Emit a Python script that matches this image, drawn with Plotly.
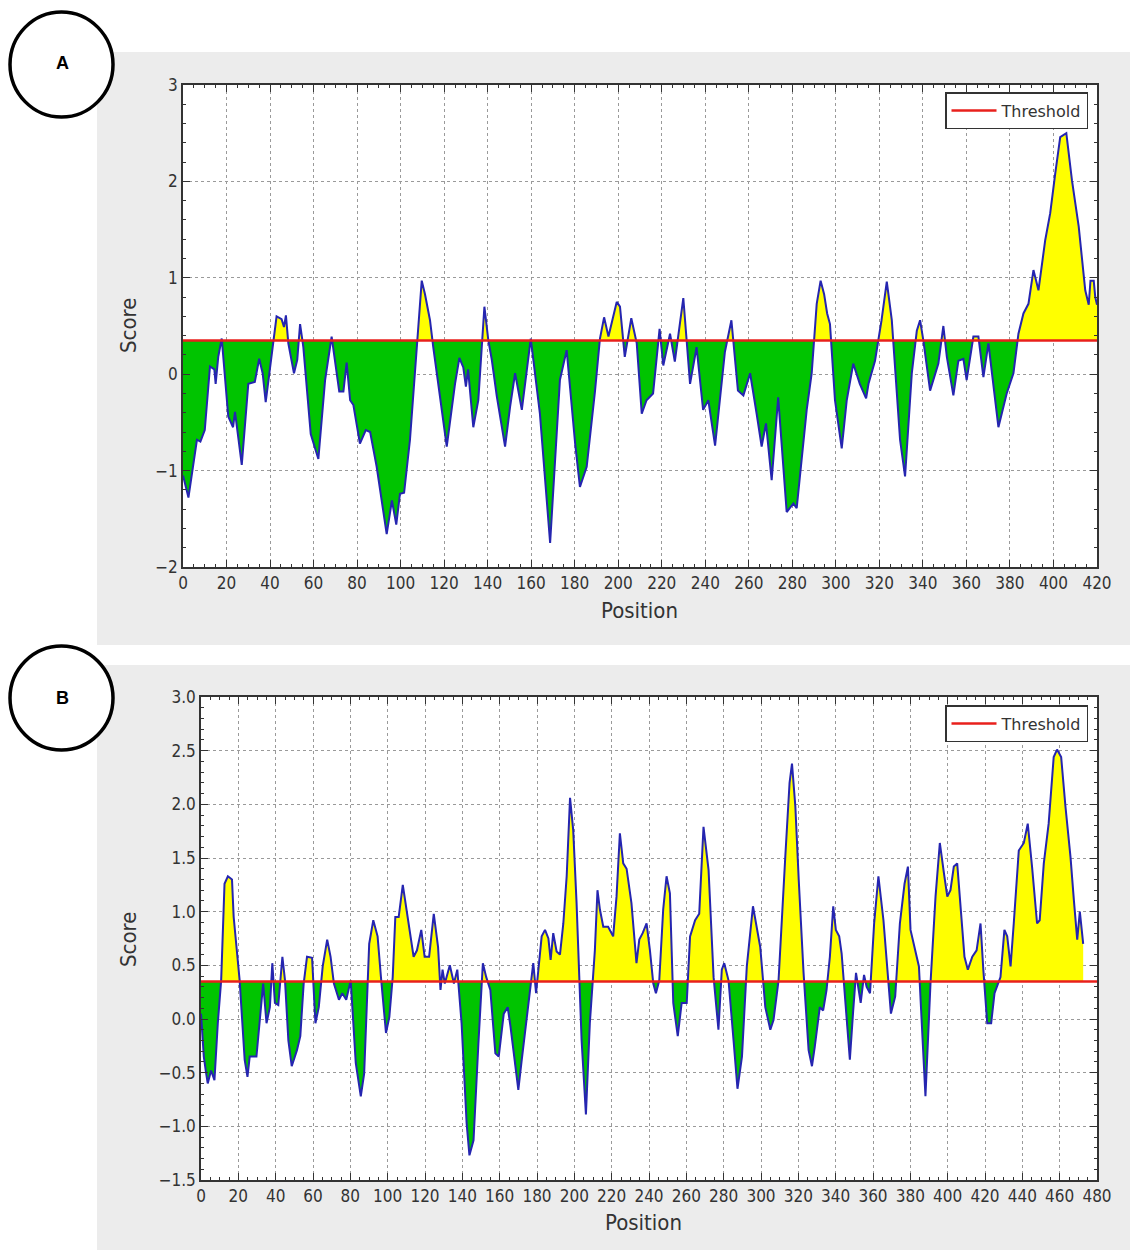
import plotly.graph_objects as go

W, H = 1130, 1252
THRESHOLD = 0.35

# ---------------- Panel A data ----------------
a_pos = [0, 2.5, 6.4, 8, 10, 12.4, 14.4, 15, 16.2, 17.8, 20.8, 23, 23.9, 27, 30, 33, 35, 36.6, 38, 40.2,
         43, 45.3, 46.4, 47.3, 48.4, 51, 52.5, 53.8, 55.3, 58.7, 62.2, 65.3, 68.3, 71.8, 73.7, 75.2, 76.8,
         78.3, 81.3, 84, 86, 89, 93.6, 96, 98, 99.7, 101.6, 104.3, 107.4, 109.7, 111.2, 113.5, 115, 121.2,
         125, 127, 128.8, 130, 131, 133.4, 135.7, 138.5, 140.3, 141.9, 144.2, 148, 150.3, 152.6, 155.7,
         159.8, 164, 168.7, 173.2, 176.3, 180.2, 182.4, 185.5, 189.3, 191.6, 193.5, 195.5, 199.3, 200.8,
         203, 206, 208.5, 210.8, 213, 216, 219, 220.7, 223.8, 226, 229.9, 233, 236, 239, 241.4, 244.5,
         249, 252, 255, 257.5, 260.6, 263.6, 265.9, 267.9, 270.5, 273.5, 277.4, 280.5, 282, 286.6, 288.9,
         291.2, 293, 294.6, 296, 297.3, 299.6, 302.7, 305, 308, 311, 313.9, 315, 318, 321, 323.4, 325.7,
         329.5, 331.8, 334.9, 337.2, 338.7, 340.2, 343.3, 347.1, 349.4, 351, 354, 356.3, 358.6, 360.1,
         363.2, 365.5, 367.8, 370.1, 374.7, 378.5, 381.6, 383.9, 386.2, 388.5, 390.8, 393.1, 396.2, 398.5,
         400.8, 403.1, 405.9, 408.5, 411.6, 414.6, 416.2, 417, 418.5, 419.2, 420]
a_score = [-1.05, -1.28, -0.68, -0.70, -0.58, 0.08, 0.05, -0.10, 0.18, 0.37, -0.44, -0.55, -0.39, -0.94,
           -0.10, -0.08, 0.16, 0.01, -0.29, 0.08, 0.60, 0.57, 0.49, 0.61, 0.32, 0.01, 0.15, 0.52, 0.28,
           -0.62, -0.88, -0.06, 0.39, -0.18, -0.18, 0.12, -0.27, -0.32, -0.72, -0.58, -0.60, -0.96, -1.66,
           -1.31, -1.56, -1.24, -1.23, -0.68, 0.24, 0.97, 0.83, 0.56, 0.28, -0.75, -0.10, 0.17, 0.07,
           -0.13, 0.05, -0.55, -0.27, 0.70, 0.35, 0.15, -0.23, -0.75, -0.34, 0.01, -0.37, 0.37, -0.41,
           -1.75, -0.06, 0.25, -0.72, -1.17, -0.96, -0.18, 0.37, 0.59, 0.39, 0.75, 0.70, 0.18, 0.58, 0.32,
           -0.41, -0.27, -0.20, 0.47, 0.09, 0.42, 0.13, 0.79, -0.10, 0.28, -0.37, -0.27, -0.74, 0.23, 0.56,
           -0.17, -0.22, 0.01, -0.41, -0.75, -0.51, -1.10, -0.24, -1.43, -1.34, -1.39, -0.37, 0.01, 0.73,
           0.97, 0.83, 0.63, 0.52, -0.27, -0.77, -0.27, 0.11, -0.10, -0.25, -0.10, 0.14, 0.56, 0.96, 0.56,
           -0.68, -1.06, 0.01, 0.45, 0.56, 0.35, -0.17, 0.11, 0.50, 0.18, -0.22, 0.14, 0.16, -0.06, 0.39,
           0.39, -0.03, 0.32, -0.55, -0.20, 0.01, 0.42, 0.63, 0.73, 1.08, 0.87, 1.39, 1.67, 2.08, 2.46,
           2.50, 2.01, 1.53, 0.87, 0.72, 0.97, 0.97, 0.80, 0.72]

# ---------------- Panel B data ----------------
b_pos = [0, 1.5, 2.7, 3.6, 5.4, 7.2, 9, 10.8, 12.6, 14.4, 16.6, 17.5, 20.7, 23.4, 24.9, 26.1, 29.7, 33.3,
         35.1, 36.9, 38.2, 39.6, 41.4, 43.6, 45, 46.8, 48.6, 51.4, 53.2, 55, 56.8, 59.5, 61.3, 63.1, 65.2,
         67.6, 69.4, 71.2, 73.9, 75.7, 77.8, 80.2, 82.9, 85.6, 87.4, 90.1, 92.3, 94.6, 96.4, 99.1, 100.9,
         102.7, 104.1, 105.9, 108.1, 109.9, 112.1, 113.9, 115.7, 118, 119.8, 122.2, 124.7, 127, 128.3,
         129.4, 130.6, 133.3, 135.5, 137.3, 139.6, 142.3, 143.8, 146, 148.6, 151, 152.8, 155, 157.7,
         159.5, 162.2, 164.3, 165.8, 168.5, 170, 171.7, 174.4, 177.1, 178, 179.5, 180.7, 182.5, 184.3,
         186.1, 187.3, 188.7, 190.5, 192.3, 194.1, 195.9, 197.7, 199.4, 201.2, 203.9, 206.2, 208.3, 211,
         212.4, 213.7, 215.5, 218.1, 220.8, 222.6, 224.4, 226.2, 228, 230.6, 233.3, 234.8, 236.6, 238.7,
         240.5, 242.3, 243.7, 245.5, 247.6, 249.4, 251.2, 253, 255.4, 257.5, 260.2, 262, 264.7, 266.9,
         269.2, 271.9, 274.6, 277.2, 279, 280.3, 282.6, 285.3, 287.4, 289.8, 292.4, 295.7, 297.4, 299.6,
         302.3, 305, 306.7, 309.4, 313, 315.3, 316.6, 318.4, 320.2, 322.8, 325.5, 327.3, 328.8, 331.5,
         333.3, 335.1, 336.9, 338.7, 340.1, 341.9, 343.2, 345.9, 347.6, 349.4, 350.9, 353.4, 355.2, 356.6,
         358.4, 360.6, 362.9, 365.6, 367.4, 369.6, 371.9, 374.4, 376.9, 378.7, 380.1, 382.8, 384.6, 388.1,
         390.8, 393.5, 395.8, 398, 399.8, 401.5, 403.3, 405.1, 406.9, 409, 410.8, 413.2, 415.5, 417.6,
         419.1, 421.2, 423.3, 425.1, 428.3, 430.4, 431.9, 433.7, 435.4, 438.1, 440.8, 442.9, 445.2, 447.9,
         449.3, 451.5, 454.1, 456.8, 458.6, 460.8, 463.1, 465.8, 467.6, 469.4, 470.8, 472.6]
b_score = [0.05, -0.35, -0.50, -0.60, -0.48, -0.57, -0.04, 0.36, 1.26, 1.33, 1.30, 0.95, 0.36, -0.38, -0.54,
           -0.35, -0.35, 0.33, -0.04, 0.11, 0.52, 0.15, 0.13, 0.58, 0.36, -0.20, -0.44, -0.29, -0.16, 0.33,
           0.58, 0.57, -0.04, 0.11, 0.49, 0.74, 0.58, 0.33, 0.18, 0.24, 0.18, 0.36, -0.41, -0.72, -0.51,
           0.70, 0.92, 0.77, 0.39, -0.13, 0.02, 0.39, 0.95, 0.95, 1.25, 1.05, 0.77, 0.58, 0.64, 0.83, 0.58,
           0.58, 0.98, 0.67, 0.27, 0.46, 0.33, 0.50, 0.33, 0.46, -0.04, -0.97, -1.27, -1.13, -0.23, 0.52,
           0.39, 0.27, -0.32, -0.35, 0.05, 0.11, -0.07, -0.48, -0.66, -0.40, -0.01, 0.39, 0.52, 0.24, 0.43,
           0.77, 0.83, 0.75, 0.55, 0.80, 0.63, 0.60, 0.89, 1.33, 2.06, 1.76, 1.08, -0.20, -0.89, -0.04,
           0.64, 1.20, 1.02, 0.86, 0.86, 0.77, 1.14, 1.73, 1.45, 1.40, 1.08, 0.52, 0.74, 0.80, 0.89, 0.64,
           0.33, 0.24, 0.36, 1.02, 1.33, 1.17, 0.15, -0.16, 0.15, 0.15, 0.77, 0.92, 0.98, 1.79, 1.39, 0.39,
           -0.10, 0.46, 0.52, 0.36, -0.20, -0.65, -0.35, 0.49, 1.05, 0.89, 0.67, 0.11, -0.10, -0.01, 0.36,
           1.51, 2.20, 2.38, 1.98, 1.30, 0.43, -0.29, -0.44, -0.26, 0.11, 0.08, 0.27, 0.58, 1.05, 0.83,
           0.77, 0.61, -0.04, -0.38, 0.08, 0.43, 0.15, 0.41, 0.30, 0.24, 0.89, 1.33, 0.92, 0.49, 0.05,
           0.21, 0.89, 1.26, 1.42, 0.83, 0.61, 0.49, -0.72, 0.33, 1.14, 1.64, 1.36, 1.14, 1.20, 1.42, 1.45,
           1.05, 0.58, 0.46, 0.58, 0.64, 0.89, 0.46, -0.04, -0.04, 0.24, 0.39, 0.83, 0.77, 0.49, 0.89, 1.57,
           1.64, 1.82, 1.42, 0.89, 0.92, 1.45, 1.82, 2.44, 2.51, 2.44, 1.98, 1.51, 1.11, 0.74, 1.00, 0.70]

a_xticks = list(range(0, 421, 20))
b_xticks = list(range(0, 481, 20))
a_yticks = [-2, -1, 0, 1, 2, 3]
b_yticks = [-1.5, -1.0, -0.5, 0.0, 0.5, 1.0, 1.5, 2.0, 2.5, 3.0]

# ---------------- helpers ----------------
def px(x):
    return x / W


def py(y):
    return 1 - y / H


def with_crossings(xs, ys, thr):
    X, Y = [xs[0]], [ys[0]]
    for i in range(1, len(xs)):
        x0, x1, y0, y1 = xs[i - 1], xs[i], ys[i - 1], ys[i]
        if (y0 - thr) * (y1 - thr) < 0:
            t = (thr - y0) / (y1 - y0)
            X.append(x0 + t * (x1 - x0))
            Y.append(thr)
        X.append(x1)
        Y.append(y1)
    return X, Y


FAM = "DejaVu Sans Condensed, DejaVu Sans, sans-serif"
TICKFONT = dict(family=FAM, size=17, color="#333333")
TITLEFONT = dict(family=FAM, size=22, color="#333333")
LEGFONT = dict(family="DejaVu Sans, sans-serif", size=16, color="#333333")
LINE_BLUE = "#2525b0"
YELLOW = "#ffff00"
GREEN = "#00c400"
RED = "#e8201c"

fig = go.Figure()


def add_panel(xs, ys, xref, yref, xmax, legend):
    X, Y = with_crossings(xs, ys, THRESHOLD)
    up = [max(v, THRESHOLD) for v in Y]
    dn = [min(v, THRESHOLD) for v in Y]
    base = [THRESHOLD] * len(X)
    fig.add_trace(go.Scatter(x=X + X[::-1], y=up + base[::-1], fill="toself", fillcolor=YELLOW,
                             mode="none", showlegend=False, hoverinfo="skip",
                             xaxis=xref, yaxis=yref))
    fig.add_trace(go.Scatter(x=X + X[::-1], y=dn + base[::-1], fill="toself", fillcolor=GREEN,
                             mode="none", showlegend=False, hoverinfo="skip",
                             xaxis=xref, yaxis=yref))
    fig.add_trace(go.Scatter(x=xs, y=ys, mode="lines", line=dict(color=LINE_BLUE, width=2),
                             showlegend=False, xaxis=xref, yaxis=yref))
    fig.add_trace(go.Scatter(x=[0, xmax], y=[THRESHOLD, THRESHOLD], mode="lines",
                             line=dict(color=RED, width=2.5), name="Threshold",
                             legend=legend, xaxis=xref, yaxis=yref))


add_panel(a_pos, a_score, "x", "y", 420, "legend")
add_panel(b_pos, b_score, "x2", "y2", 480, "legend2")

axis_common = dict(showline=True, linecolor="#333333", linewidth=1.5, mirror="ticks",
                   ticks="inside", ticklen=7, tickcolor="#333333", tickwidth=1,
                   showgrid=True, gridcolor="#9a9a9a", griddash="dot", gridwidth=1,
                   zeroline=False, tickfont=TICKFONT)

fig.update_layout(
    width=W, height=H,
    margin=dict(l=0, r=0, t=0, b=0, autoexpand=False),
    paper_bgcolor="white", plot_bgcolor="white",
    xaxis=dict(domain=[px(183), px(1097)], range=[0, 420], tickvals=a_xticks,
               minor=dict(ticks="inside", ticklen=3, dtick=5, tickcolor="#333333", showgrid=False),
               anchor="y", **axis_common),
    yaxis=dict(domain=[py(567), py(85)], range=[-2, 3], tickvals=a_yticks,
               minor=dict(ticks="inside", ticklen=3, dtick=0.2, tickcolor="#333333", showgrid=False),
               anchor="x", **axis_common),
    xaxis2=dict(domain=[px(201), px(1097)], range=[0, 480], tickvals=b_xticks,
                minor=dict(ticks="inside", ticklen=3, dtick=5, tickcolor="#333333", showgrid=False),
                anchor="y2", **axis_common),
    yaxis2=dict(domain=[py(1180), py(697)], range=[-1.5, 3.0], tickvals=b_yticks, tickformat=".1f",
                minor=dict(ticks="inside", ticklen=3, dtick=0.1, tickcolor="#333333", showgrid=False),
                anchor="x2", **axis_common),
    legend=dict(x=px(1088), y=py(92), xanchor="right", yanchor="top", bgcolor="white",
                bordercolor="#333333", borderwidth=1.5, itemwidth=45, font=LEGFONT),
    legend2=dict(x=px(1088), y=py(705), xanchor="right", yanchor="top", bgcolor="white",
                 bordercolor="#333333", borderwidth=1.5, itemwidth=45, font=LEGFONT),
    showlegend=True,
)

shapes = [
    dict(type="rect", xref="paper", yref="paper", x0=px(97), x1=px(1130), y0=py(645), y1=py(52),
         fillcolor="#ececec", line=dict(width=0), layer="below"),
    dict(type="rect", xref="paper", yref="paper", x0=px(183), x1=px(1097), y0=py(567), y1=py(85),
         fillcolor="white", line=dict(width=0), layer="below"),
    dict(type="rect", xref="paper", yref="paper", x0=px(97), x1=px(1130), y0=py(1250), y1=py(665),
         fillcolor="#ececec", line=dict(width=0), layer="below"),
    dict(type="rect", xref="paper", yref="paper", x0=px(201), x1=px(1097), y0=py(1180), y1=py(697),
         fillcolor="white", line=dict(width=0), layer="below"),
    dict(type="circle", xref="paper", yref="paper", x0=px(10), x1=px(113), y0=py(117), y1=py(12),
         fillcolor="white", line=dict(color="black", width=3.5), layer="above"),
    dict(type="circle", xref="paper", yref="paper", x0=px(10), x1=px(113), y0=py(750), y1=py(646),
         fillcolor="white", line=dict(color="black", width=3.5), layer="above"),
]
fig.update_layout(shapes=shapes)


def ann(text, x, y, font, angle=0):
    return dict(text=text, x=px(x), y=py(y), xref="paper", yref="paper", showarrow=False,
                xanchor="center", yanchor="middle", textangle=angle, font=font)


LABELFONT = dict(family="Liberation Sans, Arial, sans-serif", size=18, color="black")
annots = [
    ann("<b>A</b>", 62, 63, LABELFONT),
    ann("<b>B</b>", 62, 698, LABELFONT),
    ann("Position", 639, 610, TITLEFONT),
    ann("Position", 643, 1222, TITLEFONT),
    ann("Score", 128, 326, TITLEFONT, -90),
    ann("Score", 128, 940, TITLEFONT, -90),
]
fig.update_layout(annotations=annots)

fig.write_html(
    "out.html",
    config={"displayModeBar": False},
    post_script=(
        "document.documentElement.style.margin='0';"
        "document.documentElement.style.overflow='hidden';"
        "document.body.style.margin='0';"
        "document.body.style.padding='0';"
        "document.body.style.overflow='hidden';"
    ),
)
